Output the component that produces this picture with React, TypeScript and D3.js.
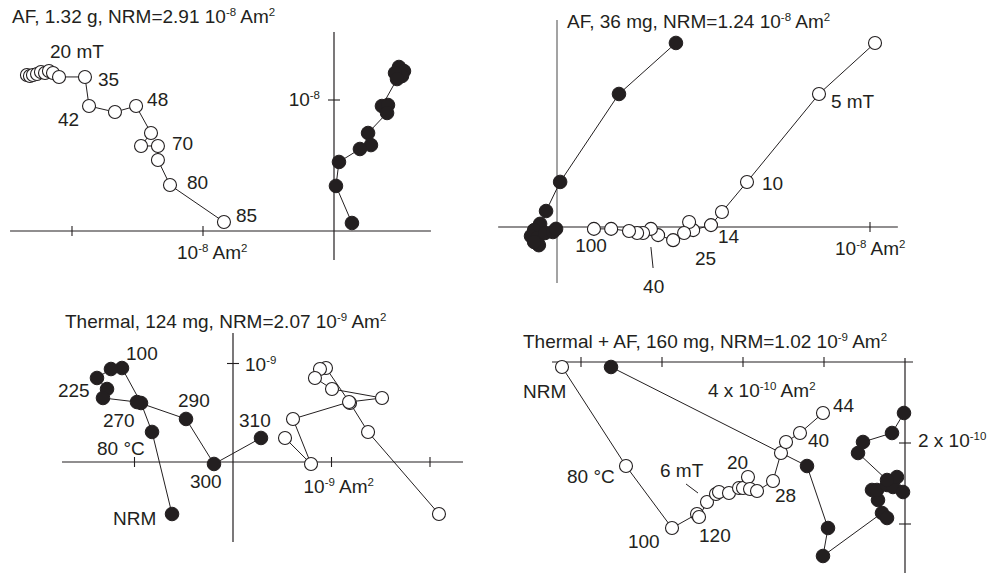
import React from 'react';
import * as d3 from 'd3';

type Pt = [number, number];

// ---------- Panel A: AF, 1.32 g (units 10^-8 Am2) ----------
const afGramHoriz: Pt[] = [
  [-2.344, 1.191], [-2.321, 1.183], [-2.298, 1.191], [-2.267, 1.198], [-2.237, 1.214],
  [-2.206, 1.206], [-2.176, 1.221], [-2.145, 1.206], [-2.099, 1.176], [-1.901, 1.176],
  [-1.870, 0.954], [-1.672, 0.908], [-1.511, 0.954], [-1.397, 0.748], [-1.473, 0.649],
  [-1.344, 0.649], [-1.344, 0.542], [-1.252, 0.351], [-0.840, 0.069],
];
const afGramVert: Pt[] = [
  [0.496, 1.252], [0.534, 1.221], [0.519, 1.183], [0.466, 1.206], [0.481, 1.160],
  [0.366, 0.954], [0.412, 0.962], [0.405, 0.901], [0.260, 0.748], [0.282, 0.656],
  [0.198, 0.626], [0.038, 0.527], [0.015, 0.344], [0.137, 0.061],
];
const afGramLabels = [
  { t: '20 mT', x: -2.168, y: 1.321 },
  { t: '35', x: -1.802, y: 1.107 },
  { t: '42', x: -2.107, y: 0.802 },
  { t: '48', x: -1.427, y: 0.954 },
  { t: '70', x: -1.237, y: 0.618 },
  { t: '80', x: -1.122, y: 0.321 },
  { t: '85', x: -0.748, y: 0.069 },
];

// ---------- Panel B: AF, 36 mg (units 10^-8 Am2) ----------
const afMgHoriz: Pt[] = [
  [1.016, 0.588], [0.837, 0.425], [0.607, 0.144], [0.527, 0.048], [0.492, 0.006],
  [0.435, -0.010], [0.422, 0.016], [0.406, -0.019], [0.371, -0.042], [0.323, -0.026],
  [0.300, -0.006], [0.275, -0.019], [0.256, -0.019], [0.230, -0.013], [0.173, -0.006],
  [0.118, -0.006],
];
const afMgVert: Pt[] = [
  [0.380, 0.588], [0.198, 0.425], [0.010, 0.144], [-0.035, 0.051], [-0.054, 0.010],
  [-0.073, -0.010], [-0.083, -0.029], [-0.064, -0.035], [-0.038, -0.019], [-0.013, -0.016],
  [-0.003, -0.006], [-0.058, -0.058], [-0.073, -0.048],
];
const afMgLabels = [
  { t: '5 mT', x: 0.875, y: 0.380 },
  { t: '10', x: 0.655, y: 0.118 },
  { t: '14', x: 0.514, y: -0.051 },
  { t: '25', x: 0.441, y: -0.121 },
  { t: '40', x: 0.275, y: -0.211 },
  { t: '100', x: 0.058, y: -0.080 },
];
const afMgLeaders: [Pt, Pt][] = [[[0.300, -0.064], [0.307, -0.131]]];

// ---------- Panel C: Thermal, 124 mg (units 10^-9 Am2) ----------
const thermalHoriz: Pt[] = [
  [2.091, -0.528], [1.371, 0.305], [1.188, 0.599], [0.944, 0.954], [0.883, 0.944],
  [0.832, 0.853], [1.005, 0.741], [1.513, 0.650], [1.178, 0.609], [0.609, 0.437],
  [0.792, -0.020], [0.528, 0.244],
];
const thermalVert: Pt[] = [
  [-0.619, -0.528], [-0.822, 0.305], [-0.934, 0.599], [-1.127, 0.954], [-1.239, 0.944],
  [-1.381, 0.853], [-1.279, 0.741], [-1.320, 0.650], [-0.975, 0.609], [-0.477, 0.437],
  [-0.193, -0.020], [0.284, 0.244],
];
const thermalLabels = [
  { t: 'NRM', x: -1.218, y: -0.640 },
  { t: '80 °C', x: -1.381, y: 0.071 },
  { t: '270', x: -1.320, y: 0.355 },
  { t: '100', x: -1.086, y: 1.036 },
  { t: '225', x: -1.777, y: 0.660 },
  { t: '290', x: -0.558, y: 0.558 },
  { t: '300', x: -0.437, y: -0.264 },
  { t: '310', x: 0.061, y: 0.355 },
];

// ---------- Panel D: Thermal + AF, 160 mg (units 10^-10 Am2) ----------
const comboHoriz: Pt[] = [
  [-8.469, -0.123], [-6.889, -2.568], [-5.753, -4.099], [-5.136, -3.753], [-5.086, -3.827],
  [-4.889, -3.457], [-4.667, -3.259], [-4.593, -3.210], [-4.346, -3.235], [-4.099, -3.111],
  [-4.000, -3.111], [-3.877, -2.840], [-3.827, -3.136], [-3.654, -3.185], [-3.259, -2.938],
  [-3.062, -2.247], [-2.938, -1.975], [-2.593, -1.753], [-2.025, -1.259],
];
const comboVert: Pt[] = [
  [-7.259, -0.123], [-2.420, -2.568], [-1.901, -4.099], [-2.025, -4.790], [-0.568, -3.728],
  [-0.444, -3.852], [-0.667, -3.407], [-0.815, -3.160], [-0.691, -3.160], [-0.444, -3.037],
  [-0.296, -3.086], [-0.049, -3.210], [-0.198, -2.840], [-0.444, -2.914], [-1.160, -2.247],
  [-1.037, -1.975], [-0.321, -1.753], [-0.025, -1.259],
];
const comboLabels = [
  { t: 'NRM', x: -9.432, y: -0.889 },
  { t: '80 °C', x: -8.346, y: -2.988 },
  { t: '100', x: -6.840, y: -4.593 },
  { t: '120', x: -5.086, y: -4.444 },
  { t: '6 mT', x: -6.049, y: -2.840 },
  { t: '20', x: -4.395, y: -2.642 },
  { t: '28', x: -3.210, y: -3.457 },
  { t: '40', x: -2.395, y: -2.099 },
  { t: '44', x: -1.778, y: -1.235 },
];
const comboLeaders: [Pt, Pt][] = [[[-5.407, -3.012], [-5.111, -3.235]]];

// ---------- layout ----------
const INK = '#231f20';
const FONT = "'Liberation Sans', Arial, Helvetica, sans-serif";

type AxisLabel = { t: string; at: Pt; dx: number; dy: number; anchor?: string };
type PanelCfg = {
  key: string;
  title: string;
  titlePos: Pt;
  origin: Pt;
  unit: number;
  xExt: Pt;
  yExt: Pt;
  xTicks: number[];
  yTicks: number[];
  open: Pt[];
  filled: Pt[];
  labels: { t: string; x: number; y: number }[];
  leaders: [Pt, Pt][];
  axisLabels: AxisLabel[];
  vColor: string;
  vWidth: number;
};

const panels: PanelCfg[] = [
  {
    key: 'a', title: 'AF, 1.32 g, NRM=2.91 10^{-8} Am^{2}', titlePos: [12, 23],
    origin: [334, 231], unit: 131, xExt: [-2.473, 0.740], yExt: [-0.221, 1.519],
    xTicks: [-2, -1], yTicks: [1], open: afGramHoriz, filled: afGramVert,
    labels: afGramLabels, leaders: [],
    axisLabels: [
      { t: '10^{-8} Am^{2}', at: [-1, 0], dx: -26, dy: 28 },
      { t: '10^{-8}', at: [0, 1], dx: -14, dy: 6, anchor: 'end' },
    ],
    vColor: INK, vWidth: 1.2,
  },
  {
    key: 'b', title: 'AF, 36 mg, NRM=1.24 10^{-8} Am^{2}', titlePos: [567, 28],
    origin: [557, 227], unit: 313, xExt: [-0.188, 1.089], yExt: [-0.179, 0.661],
    xTicks: [1], yTicks: [], open: afMgHoriz, filled: afMgVert,
    labels: afMgLabels, leaders: afMgLeaders,
    axisLabels: [{ t: '10^{-8} Am^{2}', at: [1, 0], dx: -35, dy: 28 }],
    vColor: '#8c8c8c', vWidth: 1.6,
  },
  {
    key: 'c', title: 'Thermal, 124 mg, NRM=2.07 10^{-9} Am^{2}', titlePos: [65, 328],
    origin: [233, 462], unit: 98.5, xExt: [-1.736, 2.335], yExt: [-0.812, 1.310],
    xTicks: [-1, 1, 2], yTicks: [1], open: thermalHoriz, filled: thermalVert,
    labels: thermalLabels, leaders: [],
    axisLabels: [
      { t: '10^{-9}', at: [0, 1], dx: 12, dy: 7 },
      { t: '10^{-9} Am^{2}', at: [1, 0], dx: -28, dy: 31 },
    ],
    vColor: INK, vWidth: 1.2,
  },
  {
    key: 'd', title: 'Thermal + AF, 160 mg, NRM=1.02 10^{-9} Am^{2}', titlePos: [523, 348],
    origin: [905, 362], unit: 40.5, xExt: [-8.716, 0.198], yExt: [-5.21, 0.1],
    xTicks: [-8, -6, -4, -2], yTicks: [-2, -4], open: comboHoriz, filled: comboVert,
    labels: comboLabels, leaders: comboLeaders,
    axisLabels: [
      { t: '4 x 10^{-10} Am^{2}', at: [-4, 0], dx: -35, dy: 35 },
      { t: '2 x 10^{-10}', at: [0, -2], dx: 13, dy: 4 },
    ],
    vColor: INK, vWidth: 1.2,
  },
];

function rich(s: string) {
  const parts = s.split(/(\^\{[^}]*\})/).filter((p) => p.length > 0);
  let prevSup = false;
  return parts.map((p, i) => {
    if (p.startsWith('^{')) {
      prevSup = true;
      return (
        <tspan key={i} fontSize={11.5} dy={-7}>
          {p.slice(2, -1)}
        </tspan>
      );
    }
    const dy = prevSup ? 7 : 0;
    prevSup = false;
    return (
      <tspan key={i} dy={dy}>
        {p}
      </tspan>
    );
  });
}

function Panel({ p }: { p: PanelCfg }) {
  const x = d3.scaleLinear().domain([0, 1]).range([p.origin[0], p.origin[0] + p.unit]);
  const y = d3.scaleLinear().domain([0, 1]).range([p.origin[1], p.origin[1] - p.unit]);
  const line = d3.line<Pt>().x((d) => x(d[0])).y((d) => y(d[1]));
  const R = 6.8;
  return (
    <g>
      <line x1={x(p.xExt[0])} x2={x(p.xExt[1])} y1={y(0)} y2={y(0)} stroke={INK} strokeWidth={1.2} />
      <line x1={x(0)} x2={x(0)} y1={y(p.yExt[0])} y2={y(p.yExt[1])} stroke={p.vColor} strokeWidth={p.vWidth} />
      {p.xTicks.map((t) => (
        <line key={'xt' + t} x1={x(t)} x2={x(t)} y1={y(0) - 5} y2={y(0) + 5} stroke={INK} strokeWidth={1.1} />
      ))}
      {p.yTicks.map((t) => (
        <line key={'yt' + t} x1={x(0) - 6} x2={x(0) + 6} y1={y(t)} y2={y(t)} stroke={INK} strokeWidth={1.1} />
      ))}
      <text x={p.titlePos[0]} y={p.titlePos[1]} fontSize={19} fill={INK}>
        {rich(p.title)}
      </text>
      {p.axisLabels.map((a, i) => (
        <text
          key={'al' + i}
          x={x(a.at[0]) + a.dx}
          y={y(a.at[1]) + a.dy}
          fontSize={19}
          fill={INK}
          textAnchor={a.anchor || 'start'}
        >
          {rich(a.t)}
        </text>
      ))}
      <path d={line(p.open) || ''} fill="none" stroke={INK} strokeWidth={1} />
      <path d={line(p.filled) || ''} fill="none" stroke={INK} strokeWidth={1} />
      {p.leaders.map((l, i) => (
        <line key={'ld' + i} x1={x(l[0][0])} y1={y(l[0][1])} x2={x(l[1][0])} y2={y(l[1][1])} stroke={INK} strokeWidth={1} />
      ))}
      {p.filled.map((d, i) => (
        <circle key={'f' + i} cx={x(d[0])} cy={y(d[1])} r={R} fill={INK} stroke={INK} strokeWidth={1} />
      ))}
      {p.open.map((d, i) => (
        <circle key={'o' + i} cx={x(d[0])} cy={y(d[1])} r={R - 0.3} fill="#fff" stroke={INK} strokeWidth={1.1} />
      ))}
      {p.labels.map((l, i) => (
        <text key={'lb' + i} x={x(l.x)} y={y(l.y)} fontSize={19} fill={INK}>
          {l.t}
        </text>
      ))}
    </g>
  );
}

export default function App() {
  return (
    <svg
      width={988}
      height={575}
      style={{ position: 'absolute', left: 0, top: 0, background: '#fff' }}
      fontFamily={FONT}
    >
      {panels.map((p) => (
        <Panel key={p.key} p={p} />
      ))}
    </svg>
  );
}
